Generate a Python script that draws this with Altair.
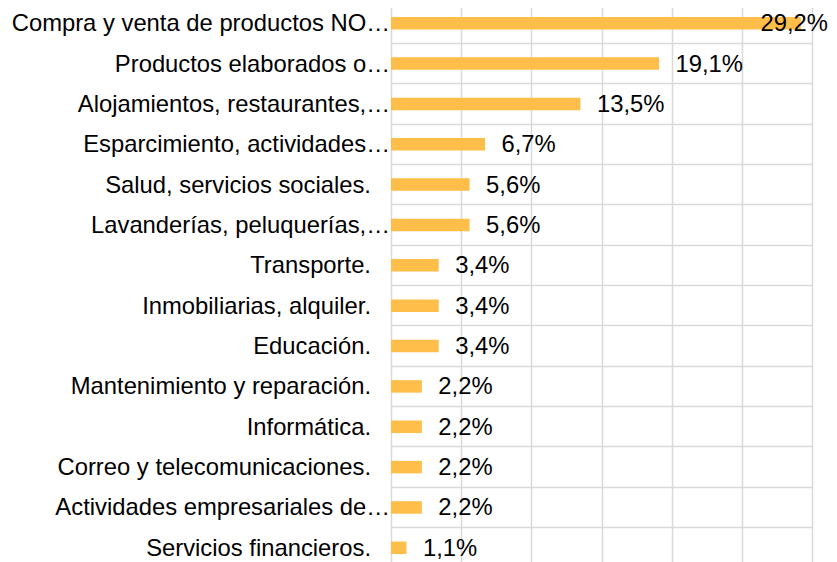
import altair as alt
import pandas as pd

categories = [
    "Compra y venta de productos NO…",
    "Productos elaborados o…",
    "Alojamientos, restaurantes,…",
    "Esparcimiento, actividades…",
    "Salud, servicios sociales.",
    "Lavanderías, peluquerías,…",
    "Transporte.",
    "Inmobiliarias, alquiler.",
    "Educación.",
    "Mantenimiento y reparación.",
    "Informática.",
    "Correo y telecomunicaciones.",
    "Actividades empresariales de…",
    "Servicios financieros.",
]
values = [29.2, 19.1, 13.5, 6.7, 5.6, 5.6, 3.4, 3.4, 3.4, 2.2, 2.2, 2.2, 2.2, 1.1]
x_ticks = [0, 5, 10, 15, 20, 25, 30]

df = pd.DataFrame({"cat": categories, "v": values})

FONT = "Liberation Sans"
FS = 23.8
GRID = "#D9D9D9"

y_enc = alt.Y(
    "cat:N",
    sort=categories,
    scale=alt.Scale(paddingInner=0, paddingOuter=0),
    axis=alt.Axis(
        title=None, labels=False, ticks=False, domain=False,
        grid=True, bandPosition=0, gridColor=GRID, gridWidth=1.5,
    ),
)
x_scale = alt.Scale(domain=[0, 30], nice=False)

base = alt.Chart(df)

bars = base.mark_bar(size=12.5, color="#FFBD4A").encode(
    y=y_enc,
    x=alt.X(
        "v:Q",
        scale=x_scale,
        axis=alt.Axis(
            values=x_ticks, labels=False, ticks=False, domain=False,
            title=None, grid=True, gridColor=GRID, gridWidth=1.5,
        ),
    ),
)

value_labels = base.transform_calculate(
    lx="min(datum.v, 25.15)",
    lab="replace(format(datum.v, '.1f'), '.', ',') + '%'",
).mark_text(align="left", baseline="middle", dx=16.5, dy=1, fontSize=FS, font=FONT, color="#000000").encode(
    y=alt.Y("cat:N", sort=categories),
    x=alt.X("lx:Q", scale=x_scale),
    text="lab:N",
)

cat_full = base.transform_filter("indexof(datum.cat, '…') < 0").mark_text(
    align="right", baseline="middle", dx=-20, dy=1, fontSize=FS, font=FONT, color="#000000"
).encode(
    y=alt.Y("cat:N", sort=categories),
    x=alt.value(0),
    text="cat:N",
)

cat_trunc = base.transform_filter("indexof(datum.cat, '…') >= 0").mark_text(
    align="right", baseline="middle", dx=-1, dy=1, fontSize=FS, font=FONT, color="#000000"
).encode(
    y=alt.Y("cat:N", sort=categories),
    x=alt.value(0),
    text="cat:N",
)

chart = (
    alt.layer(bars, value_labels, cat_full, cat_trunc)
    .properties(
        width=421,
        height=565,
        autosize=alt.AutoSizeParams(type="none"),
        padding={"left": 383, "top": -5, "right": 17, "bottom": 0},
    )
    .configure_view(stroke=None)
)

chart.save("out.html", embed_options={"renderer": "svg", "actions": False})
